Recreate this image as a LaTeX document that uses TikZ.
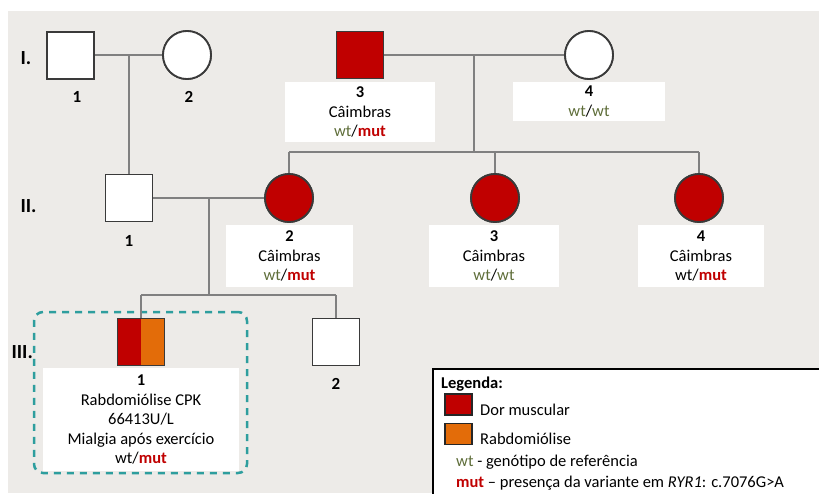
\documentclass[tikz,border=0pt]{standalone}
\usepackage{fontspec}
\setmainfont{Carlito}
\usetikzlibrary{calc}
\definecolor{bg}{HTML}{EDEBE8}
\definecolor{mred}{HTML}{C00000}
\definecolor{morange}{HTML}{E36C09}
\definecolor{wtg}{HTML}{5F6E3A}
\definecolor{tealdash}{HTML}{2E9E9E}
\definecolor{ln}{HTML}{808080}
\definecolor{edgec}{HTML}{3A3A3A}
\newcommand{\wtg}{\textcolor{wtg}{wt}}
\newcommand{\mutr}{\textcolor{mred}{\textbf{mut}}}
\begin{document}
\begin{tikzpicture}[x=1pt,y=-1pt,
  male/.style={draw=edgec, line width=1.8pt, minimum size=47pt, inner sep=0pt, rectangle, fill=white},
  female/.style={draw=edgec, line width=1.8pt, minimum size=48pt, inner sep=0pt, circle, fill=white},
  aff/.style={fill=mred},
  conn/.style={draw=ln, line width=1.5pt},
  infobox/.style={fill=white, inner sep=0pt, align=center, font=\fontsize{16.5}{19.5}\selectfont},
  num/.style={font=\fontsize{17}{20}\selectfont\bfseries},
  gen/.style={font=\fontsize{20}{24}\selectfont\bfseries, anchor=west},
  legsq/.style={draw=black!85, line width=1.5pt, minimum width=27pt, minimum height=21pt, inner sep=0pt},
  legtxt/.style={anchor=west, inner sep=0pt, font=\fontsize{16.5}{19.5}\selectfont},
  hlbox/.style={draw=tealdash, line width=2.5pt, dash pattern=on 7pt off 6pt, rounded corners=9pt, inner sep=0pt}
]
\useasboundingbox (0,0) rectangle (819,493);
\begin{scope}
\clip (0,0) rectangle (819,493);
\fill[bg] (8,11) rectangle (819,493);

% generation labels
\node[gen] (gI) at (17,58) {I.};
\node[gen] (gII) at (17,206) {II.};
\node[gen] (gIII) at (8,352) {III.};

% generation I
\node[male] (I1) at (70.5,55.5) {};
\node[female] (I2) at (187,55) {};
\node[male, aff] (I3) at (360,55) {};
\node[female] (I4) at (589,55) {};
\node[num] (nI1) at (77,97) {1};
\node[num] (nI2) at (189,97) {2};
\node[infobox, minimum width=150pt, minimum height=60pt] (bI3) at (360,112) {\textbf{3}\\Câimbras\\\wtg/\mutr};
\node[infobox, minimum width=152pt, minimum height=39pt] (bI4) at (589,101.5) {\textbf{4}\\\wtg/\wtg};

% generation II
\node[male] (II1) at (129,198) {};
\node[female, aff] (II2) at (289,198) {};
\node[female, aff] (II3) at (495,198) {};
\node[female, aff] (II4) at (699,198) {};
\node[num] (nII1) at (129,241) {1};
\node[infobox, minimum width=127pt, minimum height=62pt] (bII2) at (289.5,256) {\textbf{2}\\Câimbras\\\wtg/\mutr};
\node[infobox, minimum width=130pt, minimum height=62pt] (bII3) at (494,256) {\textbf{3}\\Câimbras\\\wtg/\wtg};
\node[infobox, minimum width=126pt, minimum height=62pt] (bII4) at (701,256) {\textbf{4}\\Câimbras\\wt/\mutr};

% generation III
\node[male, fill=none, path picture={
  \fill[mred] (path picture bounding box.south west) rectangle (path picture bounding box.north);
  \fill[morange] (path picture bounding box.south) rectangle (path picture bounding box.north east);}] (III1) at (141,342) {};
\node[male] (III2) at (336,342) {};
\node[num] (nIII2) at (336,384) {2};
\node[infobox, minimum width=196pt, minimum height=103pt] (bIII1) at (141,419.5) {\textbf{1}\\Rabdomiólise CPK\\66413U/L\\Mialgia após exercício\\wt/\mutr};
\node[hlbox, minimum width=213pt, minimum height=161pt] (hl) at (140.5,392.5) {};

% connectors
\coordinate (m1) at (129,55);
\draw[conn] (I1.east |- m1) -- (I2.west |- m1);
\draw[conn] (m1) -- (II1.north);
\coordinate (m2) at (474,55);
\coordinate (s2) at (474,152);
\draw[conn] (I3.east) -- (I4.west);
\draw[conn] (m2) -- (s2);
\coordinate (s2a) at (II2.north |- s2);
\coordinate (s2c) at (II4.north |- s2);
\draw[conn] (s2a) -- (s2c);
\draw[conn] (s2a) -- (II2.north);
\draw[conn] (II3.north |- s2) -- (II3.north);
\draw[conn] (s2c) -- (II4.north);
\coordinate (m3) at (209,198);
\coordinate (s3) at (209,295);
\draw[conn] (II1.east) -- (II2.west);
\draw[conn] (m3) -- (s3);
\draw[conn] (III1.north |- s3) -- (III2.north |- s3);
\draw[conn] (III1.north |- s3) -- (III1.north);
\draw[conn] (III2.north |- s3) -- (III2.north);

% redraw shapes above connectors
\node[male] at (I1) {};
\node[female] at (I2) {};
\node[male, aff] at (I3) {};
\node[female] at (I4) {};
\node[male] at (II1) {};
\node[female, aff] at (II2) {};
\node[female, aff] at (II3) {};
\node[female, aff] at (II4) {};
\node[male] at (III2) {};

% legend
\draw[black, line width=1.3pt, fill=white] (433,369) rectangle (850,520);
\node[legtxt, font=\fontsize{16.5}{19.5}\selectfont\bfseries] (lt) at (441,384) {Legenda:};
\node[legsq, fill=mred] (lr) at (458.5,404.5) {};
\node[legtxt] (lrt) at (480,410) {Dor muscular};
\node[legsq, fill=morange] (lo) at (458.5,434) {};
\node[legtxt] (lot) at (480,439) {Rabdomiólise};
\node[legtxt] (lw) at (456,462) {\wtg{} - genótipo de referência};
\node[legtxt] (lm) at (456,483) {\mutr{} – presença da variante em \textit{RYR1}: c.7076G>A};
\end{scope}
\end{tikzpicture}
\end{document}
